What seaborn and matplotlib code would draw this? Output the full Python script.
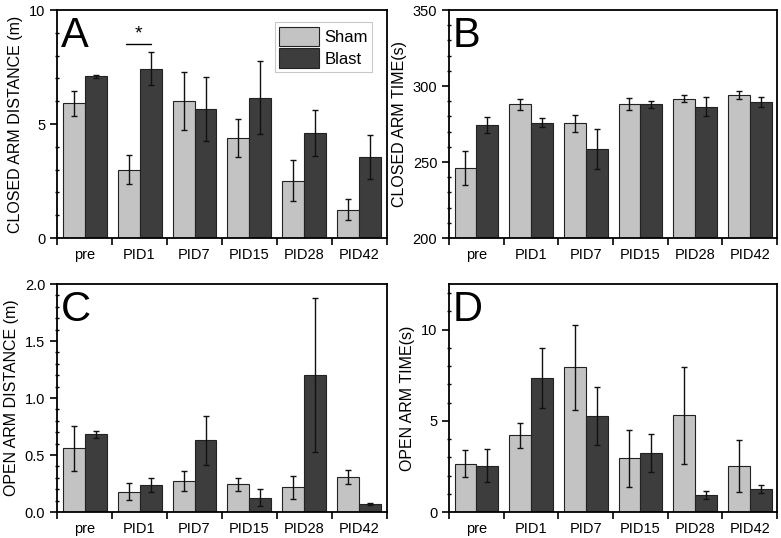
import matplotlib
matplotlib.use("Agg")
import matplotlib.pyplot as plt
from matplotlib.ticker import MultipleLocator, FixedLocator, FormatStrFormatter
import seaborn as sns
import pandas as pd
import numpy as np

sns.set_style("ticks")
plt.rcParams['font.family'] = ['Liberation Sans', 'DejaVu Sans']
plt.rcParams['text.color'] = 'black'
plt.rcParams['axes.labelcolor'] = 'black'
plt.rcParams['xtick.color'] = 'black'
plt.rcParams['ytick.color'] = 'black'

categories = ["pre", "PID1", "PID7", "PID15", "PID28", "PID42"]
groups = ["Sham", "Blast"]

closed_dist_sham = [5.9, 3.0, 6.0, 4.38, 2.52, 1.25]
closed_dist_sham_err = [0.55, 0.63, 1.28, 0.83, 0.88, 0.44]
closed_dist_blast = [7.1, 7.42, 5.67, 6.15, 4.6, 3.55]
closed_dist_blast_err = [0.07, 0.72, 1.4, 1.6, 1.01, 0.97]

closed_time_sham = [246.2, 288.0, 275.4, 288.2, 291.7, 294.3]
closed_time_sham_err = [11.3, 3.5, 5.4, 4.0, 2.5, 2.6]
closed_time_blast = [274.3, 275.9, 258.3, 288.0, 286.4, 289.5]
closed_time_blast_err = [5.5, 2.8, 13.2, 2.2, 6.1, 3.0]

open_dist_sham = [0.56, 0.178, 0.274, 0.245, 0.216, 0.307]
open_dist_sham_err = [0.197, 0.073, 0.09, 0.057, 0.103, 0.064]
open_dist_blast = [0.68, 0.236, 0.63, 0.126, 1.2, 0.073]
open_dist_blast_err = [0.03, 0.062, 0.216, 0.073, 0.676, 0.01]

open_time_sham = [2.65, 4.2, 7.93, 2.94, 5.3, 2.52]
open_time_sham_err = [0.74, 0.68, 2.32, 1.58, 2.65, 1.45]
open_time_blast = [2.54, 7.35, 5.28, 3.22, 0.93, 1.28]
open_time_blast_err = [0.9, 1.64, 1.58, 1.05, 0.22, 0.22]

sig_category = "PID1"
sig_height = 8.52

colors = {"Sham": "#C3C3C3", "Blast": "#3D3D3D"}

panels = [
    ("A", "CLOSED ARM DISTANCE (m)", closed_dist_sham, closed_dist_sham_err,
     closed_dist_blast, closed_dist_blast_err, (0, 10), 5, 1, None),
    ("B", "CLOSED ARM TIME(s)", closed_time_sham, closed_time_sham_err,
     closed_time_blast, closed_time_blast_err, (200, 350), 50, 10, None),
    ("C", "OPEN ARM DISTANCE (m)", open_dist_sham, open_dist_sham_err,
     open_dist_blast, open_dist_blast_err, (0, 2.0), 0.5, 0.1, "%.1f"),
    ("D", "OPEN ARM TIME(s)", open_time_sham, open_time_sham_err,
     open_time_blast, open_time_blast_err, (0, 12.5), 5, 1, None),
]

fig = plt.figure(figsize=(7.81, 5.38), dpi=100)
positions = [
    [0.073, 0.5576, 0.4225, 0.4238],
    [0.575, 0.5576, 0.420, 0.4238],
    [0.073, 0.0483, 0.4225, 0.4238],
    [0.575, 0.0483, 0.420, 0.4238],
]

for i, (letter, ylabel, s, se, b, be, ylim, major, minor, fmt) in enumerate(panels):
    ax = fig.add_axes(positions[i])
    df = pd.DataFrame({
        "cat": categories * 2,
        "group": ["Sham"] * 6 + ["Blast"] * 6,
        "val": list(s) + list(b),
    })
    sns.barplot(data=df, x="cat", y="val", hue="group", order=categories,
                hue_order=groups, palette=colors, errorbar=None,
                edgecolor="#222222", linewidth=0.8, width=0.8, ax=ax,
                legend=(i == 0))
    vals, errs = [], []
    for k in range(6):
        vals += [s[k], b[k]]
        errs += [se[k], be[k]]
    bars = sorted([p for p in ax.patches if p.get_width() > 0.1],
                  key=lambda p: p.get_x())
    for p, v, e in zip(bars, vals, errs):
        xc = p.get_x() + p.get_width() / 2
        ax.errorbar(xc, v, yerr=e, fmt="none", ecolor="#111111",
                    elinewidth=1.0, capsize=2.5, capthick=1.0, zorder=5)
    ax.set_xlim(-0.5, 5.5)
    ax.set_ylim(*ylim)
    ax.set_xlabel("")
    ax.set_ylabel(ylabel, fontsize=11.5, labelpad=4)
    ax.yaxis.set_major_locator(MultipleLocator(major))
    ax.yaxis.set_minor_locator(MultipleLocator(minor))
    if fmt:
        ax.yaxis.set_major_formatter(FormatStrFormatter(fmt))
    ax.xaxis.set_minor_locator(FixedLocator(np.arange(-0.5, 6.0, 1.0)))
    ax.tick_params(axis="x", which="major", length=0, labelsize=10.5, pad=7)
    ax.tick_params(axis="x", which="minor", length=5, width=1.2, direction="out")
    ax.tick_params(axis="y", which="major", length=5, width=1.2, direction="out", labelsize=10.5)
    ax.tick_params(axis="y", which="minor", length=3, width=1.0, direction="inout")
    for sp in ax.spines.values():
        sp.set_visible(True)
        sp.set_linewidth(1.3)
        sp.set_color("black")
    ax.text(0.012, 0.975, letter, transform=ax.transAxes, fontsize=30,
            ha="left", va="top", color="black")
    if i == 0:
        leg = ax.legend(loc="upper right", bbox_to_anchor=(0.965, 0.96),
                        fontsize=12, frameon=True, fancybox=False,
                        handlelength=2.4, handleheight=1.45, handletextpad=0.3,
                        borderpad=0.25, labelspacing=0.1, borderaxespad=0.2)
        leg.get_frame().set_edgecolor("#BBBBBB")
        leg.get_frame().set_linewidth(0.8)
        xi = categories.index(sig_category)
        ax.plot([xi - 0.25, xi + 0.2], [sig_height, sig_height], color="black", lw=1.0)
        ax.text(xi - 0.02, sig_height + 0.05, "*", ha="center", va="bottom", fontsize=14)

fig.savefig("out.png", dpi=100)
